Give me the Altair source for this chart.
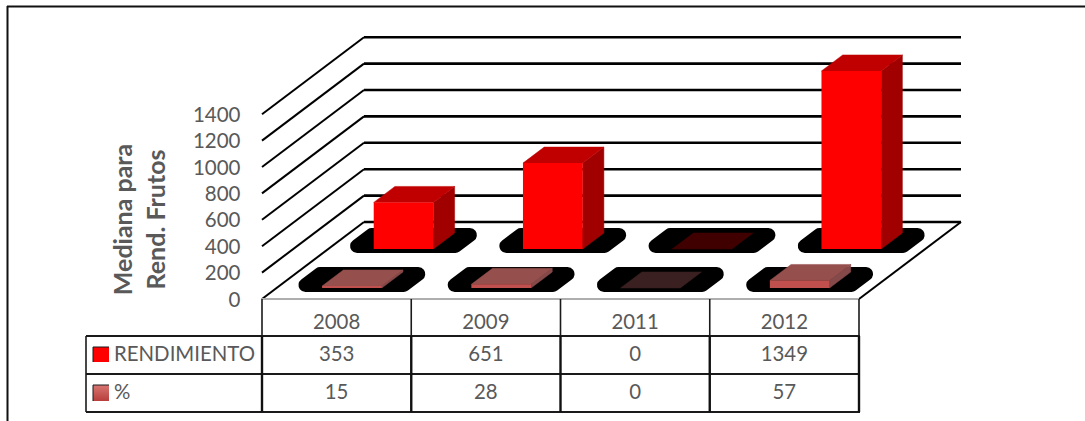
import altair as alt
import pandas as pd

# Chart values
years = ["2008", "2009", "2011", "2012"]
rendimiento = [353, 651, 0, 1349]
porcentaje = [15, 28, 0, 57]
y_ticks = [0, 200, 400, 600, 800, 1000, 1200, 1400]

# Oblique projection of the 3D box: slot/value/depth to scale units
W, H = 1085, 421
LEFT = 262
SLOT_PX = 149.25
K = 0.132            # pixels per value unit
FLOOR_Y = 299
SKEW_X = 102 / SLOT_PX
SKEW_Y = 77 / K

BAR_L, BAR_R = 0.305, 0.705
SHADOW_L, SHADOW_R = 0.167, 0.825
ROWS = {
    "RENDIMIENTO": dict(values=rendimiento, d0=0.649, d1=0.857, front="#FF0000", top="#C00000",
                        side="#A00000", zero="#400000"),
    "%": dict(values=porcentaje, d0=0.143, d1=0.351, front="#C0504D", top="#954F4C",
              side="#85494A", zero="#3A2020"),
}

FONT = "Lato"
GREY = "#595959"
x_scale = alt.Scale(domain=[0, (W - LEFT) / SLOT_PX], nice=False, zero=False)
y_scale = alt.Scale(domain=[(FLOOR_Y - H) / K, FLOOR_Y / K], nice=False, zero=False)
y_axis = alt.Axis(
    values=y_ticks, format="d", domain=False, ticks=False, grid=False, labelFont=FONT, labelFontSize=20.5,
    labelColor=GREY, labelPadding=22, labelOffset=1, labelBound=False, labelOverlap=False,
    title=["Mediana para", "Rend. Frutos"], titleFont=FONT, titleFontSize=25, titleFontWeight="bold",
    titleColor=GREY, titleLineHeight=33, titleX=-126, titleY=219, titleAlign="center",
    titleBaseline="bottom", titleAngle=270)


def px(p):
    return alt.value(p - LEFT)


def X(field="x"):
    return alt.X(f"{field}:Q", scale=x_scale, axis=None)


def Y(field="y"):
    return alt.Y(f"{field}:Q", scale=y_scale, axis=y_axis)


def project(slot, value, depth):
    return slot + depth * SKEW_X, value + depth * SKEW_Y


def polygon(rows, color, stroke=None, width=0.5):
    """Closed filled outline; one shape per year."""
    return alt.Chart(pd.DataFrame(rows)).mark_line(
        interpolate="linear-closed", fill=color, stroke=stroke or color, strokeWidth=width,
        strokeJoin="round").encode(x=X(), y=Y(), detail="year:N", order="i:Q")


def quad(year, corners):
    return [dict(year=year, i=i, x=c[0], y=c[1]) for i, c in enumerate(corners)]


# Walls and floor
grid_rows = []
for v in y_ticks:
    for i, (s, d) in enumerate([(0, 0), (0, 1), (4, 1)]):
        x, y = project(s, v, d)
        grid_rows.append(dict(v=v, i=i, x=x, y=y))
grid = pd.DataFrame(grid_rows)
wall_side = grid[grid.i < 2]
wall_back = grid[grid.i > 0]

layers = [
    alt.Chart(pd.DataFrame({"v": y_ticks, "x": [0] * len(y_ticks)})).mark_point(opacity=0).encode(
        x=X(), y=alt.Y("v:Q", scale=y_scale, axis=y_axis)),
    alt.Chart(wall_side).mark_line(color="black", strokeWidth=2).encode(
        x=X(), y=Y(), detail="v:N", order="i:Q"),
    alt.Chart(wall_back).mark_line(color="black", strokeWidth=2.6).encode(
        x=X(), y=Y(), detail="v:N", order="i:Q"),
]

edge = pd.DataFrame([dict(i=i, x=project(4, 0, d)[0], y=project(4, 0, d)[1]) for i, d in enumerate([0, 1])])
layers.append(alt.Chart(edge).mark_line(color="black", strokeWidth=2).encode(x=X(), y=Y(), order="i:Q"))

front_edge = pd.DataFrame([dict(i=i, x=float(s), y=0.0) for i, s in enumerate([0, 4])])
layers.append(alt.Chart(front_edge).mark_line(color="#AEAEAE", strokeWidth=2).encode(x=X(), y=Y(), order="i:Q"))

# Floor shadows and bar faces for both series
for name, row in ROWS.items():
    shadow, side, top, zero, front = [], [], [], [], []
    d0, d1 = row["d0"], row["d1"]
    for idx, (year, val) in enumerate(zip(years, row["values"])):
        s0, s1 = d0 + 0.039, d1 - 0.026
        shadow += quad(year, [project(idx + SHADOW_L, 0, s0), project(idx + SHADOW_R, 0, s0),
                              project(idx + SHADOW_R, 0, s1), project(idx + SHADOW_L, 0, s1)])
        cap = quad(year, [project(idx + BAR_L, val, d0), project(idx + BAR_R, val, d0),
                          project(idx + BAR_R, val, d1), project(idx + BAR_L, val, d1)])
        if val == 0:
            zero += cap
            continue
        top += cap
        side += quad(year, [project(idx + BAR_R, 0, d0), project(idx + BAR_R, 0, d1),
                            project(idx + BAR_R, val, d1), project(idx + BAR_R, val, d0)])
        xl, yb = project(idx + BAR_L, 0, d0)
        xr, _ = project(idx + BAR_R, 0, d0)
        front.append(dict(year=year, x=xl, x2=xr, y=yb, y2=yb + val))

    layers.append(polygon(shadow, "black", "black", 14))
    layers.append(polygon(zero, row["zero"]))
    layers.append(polygon(side, row["side"]))
    layers.append(polygon(top, row["top"]))
    layers.append(alt.Chart(pd.DataFrame(front)).mark_rect(color=row["front"]).encode(
        x=X(), x2="x2:Q", y=Y(), y2="y2:Q"))

# Data table under the plot
TABLE_LEFT, ROW_TOP, ROW_1, ROW_2, ROW_3 = 86, 299, 336, 374, 412
dummy = pd.DataFrame({"a": [0]})


def rule(x0, x1, y0, y1, width=2.0, color="#1A1A1A"):
    return alt.Chart(dummy).mark_rule(color=color, strokeWidth=width).encode(
        x=px(x0), x2=px(x1), y=alt.value(y0), y2=alt.value(y1))


for ry in [ROW_1, ROW_2, ROW_3]:
    layers.append(rule(TABLE_LEFT, 860, ry, ry))
layers.append(rule(TABLE_LEFT, TABLE_LEFT, ROW_1, ROW_3, 1.6))

slots = pd.DataFrame({"slot": [0, 1, 2, 3, 4]})
layers.append(alt.Chart(slots).mark_rule(color="#1A1A1A", strokeWidth=1.6).encode(
    x=alt.X("slot:Q", scale=x_scale, axis=None), y=alt.value(ROW_TOP), y2=alt.value(ROW_1)))
layers.append(alt.Chart(slots).mark_rule(color="#111111", strokeWidth=2.4).encode(
    x=alt.X("slot:Q", scale=x_scale, axis=None), y=alt.value(ROW_1), y2=alt.value(ROW_3)))

table = pd.DataFrame({
    "slot": [i + 0.5 for i in range(4)] * 3,
    "label": years + [str(v) for v in rendimiento] + [str(v) for v in porcentaje],
    "row": [323] * 4 + [355] * 4 + [393] * 4,
})
for row_y, part in table.groupby("row"):
    layers.append(alt.Chart(part).mark_text(font=FONT, fontSize=20.4, color=GREY, align="center",
                                            baseline="middle").encode(
        x=alt.X("slot:Q", scale=x_scale, axis=None), y=alt.value(int(row_y)), text="label:N"))

# Series names and their keys
for name, ty in zip(ROWS, [355, 393]):
    layers.append(alt.Chart(pd.DataFrame({"label": [name]})).mark_text(
        font=FONT, fontSize=20.4, color=GREY, align="left", baseline="middle").encode(
        x=px(114), y=alt.value(ty), text="label:N"))

layers.append(alt.Chart(dummy).mark_rect(color="#FF0000").encode(
    x=px(93), x2=px(109), y=alt.value(347), y2=alt.value(362)))
layers.append(alt.Chart(dummy).mark_rect(color=alt.Gradient(
    gradient="linear", x1=0, x2=0, y1=0, y2=1,
    stops=[alt.GradientStop(color="#D87672", offset=0), alt.GradientStop(color="#B83F3C", offset=1)])).encode(
    x=px(93), x2=px(109), y=alt.value(385), y2=alt.value(401)))
layers.append(rule(93, 109, 347, 347, 1.0))
layers.append(rule(93, 93, 347, 362, 1.0))
layers.append(rule(93, 109, 385, 385, 1.0))
layers.append(rule(93, 93, 385, 401, 1.0))

# Outer frame: top and left sides only
layers.append(rule(7, W, 6.5, 6.5, 2.0, "#111111"))
layers.append(rule(7.5, 7.5, 6, H, 2.0, "#111111"))

chart = alt.layer(*layers).properties(
    width=W - LEFT, height=H,
    padding={"left": LEFT, "top": 0, "right": 0, "bottom": 0},
    autosize=alt.AutoSizeParams(type="none"),
    background="white",
).configure_view(stroke=None)

chart.save("out.html", embed_options={"renderer": "svg", "actions": False})
